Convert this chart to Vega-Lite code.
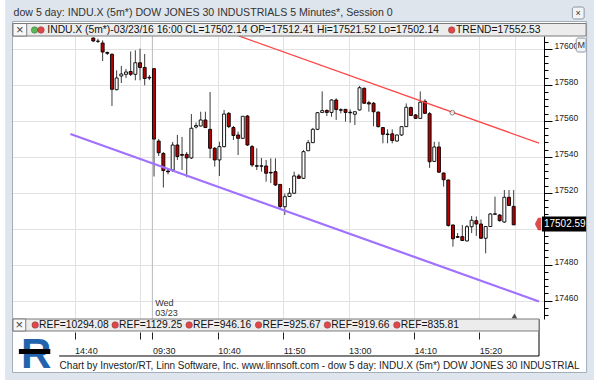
{
  "$schema": "https://vega.github.io/schema/vega-lite/v6.json",
  "width": 536,
  "height": 283,
  "autosize": {"type": "none"},
  "padding": {"left": 8, "top": 36, "right": 56, "bottom": 61},
  "background": "#ffffff",
  "config": {"view": {"stroke": null}, "text": {"font": "Liberation Sans"}, "axis": {"labelFont": "Liberation Sans"}},
  "datasets": {
    "candles": [
      {"s": -13, "o": 17605.95, "h": 17606.2, "l": 17603.7, "c": 17604.28},
      {"s": -12, "o": 17604.2, "h": 17605.56, "l": 17603.17, "c": 17604.1},
      {"s": -11, "o": 17603.17, "h": 17604.67, "l": 17593.17, "c": 17598.17},
      {"s": -10, "o": 17597.9, "h": 17598.45, "l": 17596.5, "c": 17597.45},
      {"s": -9, "o": 17596.9, "h": 17597.34, "l": 17568.17, "c": 17577.45},
      {"s": -8, "o": 17577.23, "h": 17588.0, "l": 17576.9, "c": 17583.73},
      {"s": -7, "o": 17584.84, "h": 17590.4, "l": 17580.95, "c": 17585.95},
      {"s": -6, "o": 17585.78, "h": 17588.7, "l": 17583.7, "c": 17587.06},
      {"s": -5, "o": 17587.34, "h": 17598.45, "l": 17584.84, "c": 17585.78},
      {"s": -4, "o": 17585.78, "h": 17599.1, "l": 17582.45, "c": 17592.2},
      {"s": -3, "o": 17592.2, "h": 17600.0, "l": 17582.45, "c": 17589.56},
      {"s": -2, "o": 17589.56, "h": 17597.06, "l": 17579.67, "c": 17583.45},
      {"s": -1, "o": 17584.1, "h": 17585.4, "l": 17582.6, "c": 17583.73},
      {"s": 0, "o": 17588.9, "h": 17589.0, "l": 17529.0, "c": 17549.8},
      {"s": 1, "o": 17548.7, "h": 17549.8, "l": 17540.4, "c": 17542.2},
      {"s": 2, "o": 17541.8, "h": 17542.6, "l": 17522.9, "c": 17532.3},
      {"s": 3, "o": 17532.06, "h": 17533.4, "l": 17530.2, "c": 17531.6},
      {"s": 4, "o": 17532.6, "h": 17548.2, "l": 17531.5, "c": 17546.5},
      {"s": 5, "o": 17546.5, "h": 17552.1, "l": 17538.2, "c": 17540.1},
      {"s": 6, "o": 17541.2, "h": 17551.0, "l": 17532.6, "c": 17540.8},
      {"s": 7, "o": 17541.3, "h": 17542.6, "l": 17528.6, "c": 17539.3},
      {"s": 8, "o": 17539.3, "h": 17563.7, "l": 17538.7, "c": 17555.8},
      {"s": 9, "o": 17556.5, "h": 17559.0, "l": 17555.7, "c": 17557.3},
      {"s": 10, "o": 17557.06, "h": 17565.0, "l": 17556.8, "c": 17560.4},
      {"s": 11, "o": 17560.4, "h": 17565.0, "l": 17555.9, "c": 17556.2},
      {"s": 12, "o": 17555.2, "h": 17575.95, "l": 17539.1, "c": 17544.7},
      {"s": 13, "o": 17544.7, "h": 17545.4, "l": 17534.5, "c": 17538.2},
      {"s": 14, "o": 17538.2, "h": 17548.3, "l": 17529.3, "c": 17545.6},
      {"s": 15, "o": 17545.6, "h": 17565.95, "l": 17545.1, "c": 17563.7},
      {"s": 16, "o": 17564.1, "h": 17564.8, "l": 17555.9, "c": 17556.7},
      {"s": 17, "o": 17556.2, "h": 17557.1, "l": 17549.3, "c": 17551.8},
      {"s": 18, "o": 17552.06, "h": 17553.9, "l": 17540.95, "c": 17550.2},
      {"s": 19, "o": 17550.2, "h": 17562.6, "l": 17549.8, "c": 17562.45},
      {"s": 20, "o": 17562.6, "h": 17563.2, "l": 17545.95, "c": 17546.5},
      {"s": 21, "o": 17545.6, "h": 17546.5, "l": 17534.3, "c": 17535.4},
      {"s": 22, "o": 17535.0, "h": 17544.7, "l": 17532.6, "c": 17534.7},
      {"s": 23, "o": 17534.7, "h": 17539.3, "l": 17531.7, "c": 17534.95},
      {"s": 24, "o": 17534.84, "h": 17538.2, "l": 17526.1, "c": 17530.8},
      {"s": 25, "o": 17531.3, "h": 17539.1, "l": 17525.4, "c": 17530.95},
      {"s": 26, "o": 17531.7, "h": 17539.1, "l": 17523.7, "c": 17524.3},
      {"s": 27, "o": 17524.6, "h": 17524.84, "l": 17511.3, "c": 17512.3},
      {"s": 28, "o": 17512.2, "h": 17519.6, "l": 17507.6, "c": 17517.8},
      {"s": 29, "o": 17517.9, "h": 17522.6, "l": 17517.6, "c": 17519.7},
      {"s": 30, "o": 17519.7, "h": 17531.7, "l": 17519.3, "c": 17529.3},
      {"s": 31, "o": 17529.3, "h": 17530.4, "l": 17527.6, "c": 17528.0},
      {"s": 32, "o": 17528.0, "h": 17543.7, "l": 17527.6, "c": 17542.8},
      {"s": 33, "o": 17543.3, "h": 17549.3, "l": 17543.2, "c": 17547.8},
      {"s": 34, "o": 17547.8, "h": 17556.0, "l": 17547.6, "c": 17555.2},
      {"s": 35, "o": 17555.2, "h": 17564.8, "l": 17554.8, "c": 17564.45},
      {"s": 36, "o": 17564.6, "h": 17576.3, "l": 17564.3, "c": 17565.6},
      {"s": 37, "o": 17565.7, "h": 17566.3, "l": 17562.6, "c": 17564.6},
      {"s": 38, "o": 17564.6, "h": 17571.9, "l": 17562.2, "c": 17571.5},
      {"s": 39, "o": 17571.5, "h": 17572.45, "l": 17560.4, "c": 17566.2},
      {"s": 40, "o": 17566.1, "h": 17566.9, "l": 17564.1, "c": 17565.8},
      {"s": 41, "o": 17566.3, "h": 17566.5, "l": 17559.45, "c": 17564.6},
      {"s": 42, "o": 17564.7, "h": 17566.3, "l": 17558.9, "c": 17564.4},
      {"s": 43, "o": 17563.6, "h": 17565.1, "l": 17557.6, "c": 17565.0},
      {"s": 44, "o": 17565.95, "h": 17579.3, "l": 17565.7, "c": 17578.3},
      {"s": 45, "o": 17578.0, "h": 17578.45, "l": 17569.3, "c": 17569.7},
      {"s": 46, "o": 17570.0, "h": 17571.1, "l": 17565.0, "c": 17569.3},
      {"s": 47, "o": 17569.7, "h": 17570.4, "l": 17556.9, "c": 17565.0},
      {"s": 48, "o": 17564.8, "h": 17565.1, "l": 17556.2, "c": 17556.7},
      {"s": 49, "o": 17556.2, "h": 17556.5, "l": 17547.45, "c": 17552.45},
      {"s": 50, "o": 17552.6, "h": 17555.2, "l": 17547.45, "c": 17552.3},
      {"s": 51, "o": 17552.7, "h": 17555.2, "l": 17547.45, "c": 17549.0},
      {"s": 52, "o": 17548.7, "h": 17552.3, "l": 17548.45, "c": 17552.06},
      {"s": 53, "o": 17552.06, "h": 17556.8, "l": 17551.5, "c": 17556.7},
      {"s": 54, "o": 17556.7, "h": 17569.6, "l": 17556.5, "c": 17567.45},
      {"s": 55, "o": 17567.3, "h": 17567.9, "l": 17562.6, "c": 17562.9},
      {"s": 56, "o": 17563.2, "h": 17563.7, "l": 17561.0, "c": 17561.3},
      {"s": 57, "o": 17561.3, "h": 17576.3, "l": 17561.0, "c": 17570.3},
      {"s": 58, "o": 17570.8, "h": 17571.9, "l": 17563.7, "c": 17564.1},
      {"s": 59, "o": 17563.9, "h": 17564.8, "l": 17533.8, "c": 17537.2},
      {"s": 60, "o": 17537.4, "h": 17548.3, "l": 17537.06, "c": 17545.4},
      {"s": 61, "o": 17545.4, "h": 17548.3, "l": 17530.95, "c": 17531.4},
      {"s": 62, "o": 17530.95, "h": 17531.2, "l": 17523.4, "c": 17527.2},
      {"s": 63, "o": 17527.06, "h": 17527.3, "l": 17501.1, "c": 17501.8},
      {"s": 64, "o": 17502.06, "h": 17502.3, "l": 17490.0, "c": 17494.4},
      {"s": 65, "o": 17495.6, "h": 17497.6, "l": 17494.8, "c": 17495.2},
      {"s": 66, "o": 17495.6, "h": 17502.06, "l": 17493.2, "c": 17493.45},
      {"s": 67, "o": 17493.2, "h": 17502.06, "l": 17492.9, "c": 17501.1},
      {"s": 68, "o": 17501.1, "h": 17507.06, "l": 17497.6, "c": 17504.7},
      {"s": 69, "o": 17504.45, "h": 17506.8, "l": 17496.0, "c": 17502.6},
      {"s": 70, "o": 17502.6, "h": 17505.1, "l": 17494.3, "c": 17494.7},
      {"s": 71, "o": 17494.7, "h": 17501.5, "l": 17486.3, "c": 17501.2},
      {"s": 72, "o": 17501.2, "h": 17508.7, "l": 17500.95, "c": 17508.2},
      {"s": 73, "o": 17508.0, "h": 17517.8, "l": 17507.6, "c": 17508.3},
      {"s": 74, "o": 17507.6, "h": 17508.2, "l": 17504.0, "c": 17504.45},
      {"s": 75, "o": 17503.7, "h": 17521.5, "l": 17503.2, "c": 17517.45},
      {"s": 76, "o": 17517.45, "h": 17521.5, "l": 17512.6, "c": 17512.9},
      {"s": 77, "o": 17512.41, "h": 17521.52, "l": 17502.14, "c": 17502.14}
    ]
  },
  "resolve": {"axis": {"x": "independent", "y": "independent"}},
  "layer": [
    {
      "data": {"values": [
        {"x": -31.87, "x2": 94.18, "y": 17614.83, "y2": 17627.06},
        {"x": -31.87, "x2": -30.29, "y": 17415.94, "y2": 17614.83},
        {"x": 92.61, "x2": 94.18, "y": 17415.94, "y2": 17614.83},
        {"x": -31.87, "x2": 94.18, "y": 17415.94, "y2": 17420.11}
      ]},
      "mark": {"type": "rect", "fill": "#dfe5ec"},
      "encoding": {
        "x": {"field": "x", "type": "quantitative", "scale": {"domain": [-30.19, 82.42], "nice": false, "zero": false}, "axis": null},
        "x2": {"field": "x2"},
        "y": {"field": "y", "type": "quantitative", "scale": {"domain": [17449.83, 17607.06], "nice": false, "zero": false}, "axis": null},
        "y2": {"field": "y2"}
      }
    },
    {
      "data": {"values": [{"x": -30.29, "x2": 92.61, "y": 17420.11, "y2": 17615.11}]},
      "mark": {"type": "rect", "fill": "transparent", "stroke": "#a3adba", "strokeWidth": 1},
      "encoding": {
        "x": {"field": "x", "type": "quantitative", "axis": null},
        "x2": {"field": "x2"},
        "y": {"field": "y", "type": "quantitative", "axis": null},
        "y2": {"field": "y2"}
      }
    },
    {
      "data": {"values": [{"x": 77.4}]},
      "mark": {"type": "rule", "stroke": "#e2e2e2", "strokeWidth": 1},
      "encoding": {"x": {"field": "x", "type": "quantitative", "axis": null}}
    },
    {
      "data": {"values": [{"x": -0.35}]},
      "mark": {"type": "rule", "stroke": "#bcbcbc", "strokeWidth": 1},
      "encoding": {"x": {"field": "x", "type": "quantitative", "axis": null}}
    },
    {
      "data": {"name": "candles"},
      "mark": {"type": "rule", "stroke": "#3c3c3c", "strokeWidth": 1},
      "encoding": {
        "x": {"field": "s", "type": "quantitative", "scale": {"domain": [-30.19, 82.42], "nice": false, "zero": false},
          "axis": {"orient": "bottom", "offset": 13, "values": [-17, -3, -0.35, 13.65, 27.65, 41.65, 55.65, 69.65],
            "labelExpr": "datum.value < -10 ? '14:40' : datum.value < -1 ? '' : datum.value < 5 ? '09:30' : datum.value < 20 ? '10:40' : datum.value < 35 ? '11:50' : datum.value < 48 ? '13:00' : datum.value < 62 ? '14:10' : '15:20'",
            "grid": true, "gridColor": "#e2e2e2", "domain": false, "tickColor": "#222222", "tickSize": 7,
            "labelAlign": "left", "labelBaseline": "top", "labelPadding": 7, "labelFontSize": 9, "labelColor": "#222222",
            "labelFlush": false, "labelOverlap": false, "labelBound": false, "title": null}},
        "y": {"field": "l", "type": "quantitative", "scale": {"domain": [17449.83, 17607.06], "nice": false, "zero": false},
          "axis": {"orient": "right", "values": [17460, 17480, 17500, 17520, 17540, 17560, 17580, 17600],
            "format": "d", "labelExpr": "datum.value == 17500 ? '' : datum.label",
            "grid": true, "gridColor": "#e2e2e2", "domainColor": "#000000", "tickColor": "#000000", "tickSize": 8,
            "labelPadding": 2, "labelAlign": "left", "labelBaseline": "alphabetic", "labelFontSize": 8.5, "labelColor": "#1a1a1a",
            "labelFlush": false, "labelOverlap": false, "labelBound": false, "title": null}},
        "y2": {"field": "h"}
      }
    },
    {
      "data": {"name": "candles"},
      "mark": {"type": "bar", "width": 3, "stroke": "#000000", "strokeWidth": 0.9},
      "encoding": {
        "x": {"field": "s", "type": "quantitative", "axis": null},
        "y": {"field": "o", "type": "quantitative",
          "axis": {"orient": "right", "values": [17452, 17456, 17464, 17468, 17472, 17476, 17484, 17488, 17492, 17496, 17504, 17508, 17512, 17516, 17524, 17528, 17532, 17536, 17544, 17548, 17552, 17556, 17564, 17568, 17572, 17576, 17584, 17588, 17592, 17596, 17604],
            "grid": false, "domain": false, "labels": false, "tickSize": 4, "tickColor": "#000000", "title": null}},
        "y2": {"field": "c"},
        "fill": {"condition": {"test": "datum.c < datum.o", "value": "#b30000"}, "value": "#ffffff"}
      }
    },
    {
      "data": {"values": [{"x": 18.13, "y": 17607.12}, {"x": 82.42, "y": 17547.56}]},
      "mark": {"type": "line", "stroke": "#ff4444", "strokeWidth": 1.2},
      "encoding": {"x": {"field": "x", "type": "quantitative", "axis": null}, "y": {"field": "y", "type": "quantitative", "axis": null}}
    },
    {
      "data": {"values": [{"x": 63.87, "y": 17564.45}]},
      "mark": {"type": "point", "shape": "circle", "size": 22, "filled": true, "fill": "#ffffff", "stroke": "#555555", "strokeWidth": 1},
      "encoding": {"x": {"field": "x", "type": "quantitative", "axis": null}, "y": {"field": "y", "type": "quantitative", "axis": null}}
    },
    {
      "data": {"values": [{"x": -17.9, "y": 17552.6}, {"x": 82.42, "y": 17459.6}]},
      "mark": {"type": "line", "stroke": "#a070ff", "strokeWidth": 2.2},
      "encoding": {"x": {"field": "x", "type": "quantitative", "axis": null}, "y": {"field": "y", "type": "quantitative", "axis": null}}
    },
    {
      "data": {"values": [{"x": 82.42, "y": 17449.83, "y2": 17429.28}]},
      "mark": {"type": "rule", "stroke": "#000000", "strokeWidth": 1},
      "encoding": {"x": {"field": "x", "type": "quantitative", "axis": null}, "y": {"field": "y", "type": "quantitative", "axis": null}, "y2": {"field": "y2"}}
    },
    {
      "data": {"values": [{"x": -20.31, "x2": 82.42, "y": 17429.28}]},
      "mark": {"type": "rule", "stroke": "#000000", "strokeWidth": 1},
      "encoding": {"x": {"field": "x", "type": "quantitative", "axis": null}, "x2": {"field": "x2"}, "y": {"field": "y", "type": "quantitative", "axis": null}}
    },
    {
      "data": {"values": [
        {"x": -30.19, "x2": 92.5, "y": 17607.06, "y2": 17614.0},
        {"x": -30.19, "x2": 82.42, "y": 17443.17, "y2": 17449.83}
      ]},
      "mark": {"type": "rect", "fill": "#ececec", "stroke": "#7b7b7b", "strokeWidth": 1},
      "encoding": {"x": {"field": "x", "type": "quantitative", "axis": null}, "x2": {"field": "x2"}, "y": {"field": "y", "type": "quantitative", "axis": null}, "y2": {"field": "y2"}}
    },
    {
      "data": {"values": [
        {"x": -30.19, "x2": -27.25, "y": 17607.06, "y2": 17614.0},
        {"x": -30.19, "x2": -27.46, "y": 17443.17, "y2": 17449.83}
      ]},
      "mark": {"type": "rect", "fill": "#f8f8f8", "stroke": "#7b7b7b", "strokeWidth": 1},
      "encoding": {"x": {"field": "x", "type": "quantitative", "axis": null}, "x2": {"field": "x2"}, "y": {"field": "y", "type": "quantitative", "axis": null}, "y2": {"field": "y2"}}
    },
    {
      "data": {"values": [{"x": -28.72, "y": 17610.39, "t": "×"}, {"x": -28.82, "y": 17446.5, "t": "×"}]},
      "mark": {"type": "text", "align": "center", "baseline": "middle", "fontSize": 13, "color": "#444444"},
      "encoding": {"x": {"field": "x", "type": "quantitative", "axis": null}, "y": {"field": "y", "type": "quantitative", "axis": null}, "text": {"field": "t"}}
    },
    {
      "data": {"values": [{"x": -25.57, "y": 17610.39}]},
      "mark": {"type": "point", "shape": "circle", "size": 42, "filled": true, "fill": "#17a317", "stroke": "#0a4a0a", "strokeWidth": 0.6},
      "encoding": {"x": {"field": "x", "type": "quantitative", "axis": null}, "y": {"field": "y", "type": "quantitative", "axis": null}}
    },
    {
      "data": {"values": [
        {"x": -24.2, "y": 17610.39}, {"x": 63.72, "y": 17610.39},
        {"x": -25.44, "y": 17446.5}, {"x": -8.32, "y": 17446.5}, {"x": 7.52, "y": 17446.5},
        {"x": 22.39, "y": 17446.5}, {"x": 37.12, "y": 17446.5}, {"x": 51.99, "y": 17446.5}
      ]},
      "mark": {"type": "point", "shape": "circle", "size": 42, "filled": true, "fill": "#e00000", "stroke": "#600000", "strokeWidth": 0.6},
      "encoding": {"x": {"field": "x", "type": "quantitative", "axis": null}, "y": {"field": "y", "type": "quantitative", "axis": null}}
    },
    {
      "data": {"values": [
        {"x": -22.84, "y": 17610.39, "t": "INDU.X (5m*)-03/23/16 16:00 CL=17502.14 OP=17512.41 Hi=17521.52 Lo=17502.14"},
        {"x": 64.66, "y": 17610.39, "t": "TREND=17552.53"},
        {"x": -24.6, "y": 17446.5, "t": "REF=10294.08"},
        {"x": -7.48, "y": 17446.5, "t": "REF=1129.25"},
        {"x": 8.36, "y": 17446.5, "t": "REF=946.16"},
        {"x": 23.24, "y": 17446.5, "t": "REF=925.67"},
        {"x": 37.96, "y": 17446.5, "t": "REF=919.66"},
        {"x": 52.84, "y": 17446.5, "t": "REF=835.81"}
      ]},
      "mark": {"type": "text", "align": "left", "baseline": "middle", "fontSize": 10.3, "color": "#111111"},
      "encoding": {"x": {"field": "x", "type": "quantitative", "axis": null}, "y": {"field": "y", "type": "quantitative", "axis": null}, "text": {"field": "t"}}
    },
    {
      "data": {"values": [{"x": 0.27, "y": 17458.72, "t": "Wed"}, {"x": 0.27, "y": 17453.17, "t": "03/23"}]},
      "mark": {"type": "text", "align": "left", "baseline": "middle", "fontSize": 9, "color": "#333333"},
      "encoding": {"x": {"field": "x", "type": "quantitative", "axis": null}, "y": {"field": "y", "type": "quantitative", "axis": null}, "text": {"field": "t"}}
    },
    {
      "data": {"values": [{"x": 77.16, "y": 17451.5}]},
      "mark": {"type": "point", "shape": "triangle-up", "size": 30, "filled": true, "fill": "#000000", "strokeWidth": 0},
      "encoding": {"x": {"field": "x", "type": "quantitative", "axis": null}, "y": {"field": "y", "type": "quantitative", "axis": null}}
    },
    {
      "data": {"values": [{"x": 83.05, "x2": 92.5, "y": 17498.44, "y2": 17506.78}]},
      "mark": {"type": "rect", "fill": "#000000"},
      "encoding": {"x": {"field": "x", "type": "quantitative", "axis": null}, "x2": {"field": "x2"}, "y": {"field": "y", "type": "quantitative", "axis": null}, "y2": {"field": "y2"}}
    },
    {
      "data": {"values": [{"x": 83.47, "y": 17502.59, "t": "17502.59"}]},
      "mark": {"type": "text", "align": "left", "baseline": "middle", "fontSize": 10, "color": "#ffffff"},
      "encoding": {"x": {"field": "x", "type": "quantitative", "axis": null}, "y": {"field": "y", "type": "quantitative", "axis": null}, "text": {"field": "t"}}
    },
    {
      "data": {"values": [{"x": 82.21, "y": 17502.59}]},
      "mark": {"type": "point", "shape": "M -1 0 L 0 -2 L 1 -2 L 1 2 L 0 2 Z", "size": 40, "filled": true, "fill": "#cc0000", "strokeWidth": 0},
      "encoding": {"x": {"field": "x", "type": "quantitative", "axis": null}, "y": {"field": "y", "type": "quantitative", "axis": null}}
    },
    {
      "data": {"values": [
        {"x": 90.39, "x2": 92.5, "y": 17598.17, "y2": 17605.94},
        {"x": 89.56, "x2": 92.08, "y": 17616.5, "y2": 17623.17}
      ]},
      "mark": {"type": "rect", "fill": "#f2f3f5", "stroke": "#8a96a6", "strokeWidth": 1, "cornerRadius": 2},
      "encoding": {"x": {"field": "x", "type": "quantitative", "axis": null}, "x2": {"field": "x2"}, "y": {"field": "y", "type": "quantitative", "axis": null}, "y2": {"field": "y2"}}
    },
    {
      "data": {"values": [{"x": 91.45, "y": 17602.06, "t": "M"}, {"x": 90.82, "y": 17619.83, "t": "×"}]},
      "mark": {"type": "text", "align": "center", "baseline": "middle", "fontSize": 9, "color": "#333333"},
      "encoding": {"x": {"field": "x", "type": "quantitative", "axis": null}, "y": {"field": "y", "type": "quantitative", "axis": null}, "text": {"field": "t"}}
    },
    {
      "data": {"values": [{"x": -25.25, "y": 17422.61, "t": "R"}]},
      "mark": {"type": "text", "align": "center", "baseline": "alphabetic", "fontSize": 42, "fontWeight": "bold", "color": "#1f64ad"},
      "encoding": {"x": {"field": "x", "type": "quantitative", "axis": null}, "y": {"field": "y", "type": "quantitative", "axis": null}, "text": {"field": "t"}}
    },
    {
      "data": {"values": [{"x": -28.93, "x2": -22.21, "y": 17430.39, "y2": 17433.17}]},
      "mark": {"type": "rect", "fill": "#000000"},
      "encoding": {"x": {"field": "x", "type": "quantitative", "axis": null}, "x2": {"field": "x2"}, "y": {"field": "y", "type": "quantitative", "axis": null}, "y2": {"field": "y2"}}
    },
    {
      "data": {"values": [
        {"x": -20.21, "y": 17423.72, "t": "Chart by Investor/RT, Linn Software, Inc. www.linnsoft.com - dow 5 day: INDU.X (5m*) DOW JONES 30 INDUSTRIAL"}
      ]},
      "mark": {"type": "text", "align": "left", "baseline": "middle", "fontSize": 10, "color": "#222222"},
      "encoding": {"x": {"field": "x", "type": "quantitative", "axis": null}, "y": {"field": "y", "type": "quantitative", "axis": null}, "text": {"field": "t"}}
    },
    {
      "data": {"values": [
        {"x": -30.08, "y": 17619.83, "t": "dow 5 day: INDU.X (5m*) DOW JONES 30 INDUSTRIALS 5 Minutes*, Session 0"}
      ]},
      "mark": {"type": "text", "align": "left", "baseline": "middle", "fontSize": 10.6, "color": "#333333"},
      "encoding": {"x": {"field": "x", "type": "quantitative", "axis": null}, "y": {"field": "y", "type": "quantitative", "axis": null}, "text": {"field": "t"}}
    }
  ]
}
